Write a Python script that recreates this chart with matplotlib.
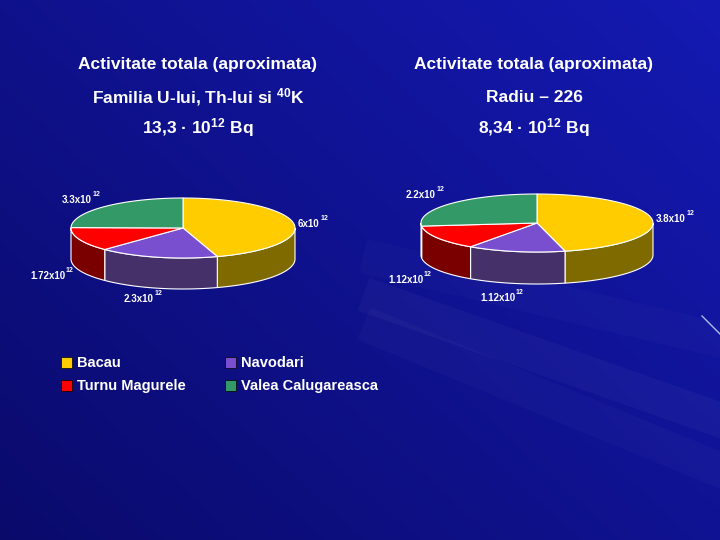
import numpy as np
import matplotlib
matplotlib.use('Agg')
import matplotlib.pyplot as plt
from matplotlib.patches import Polygon, Rectangle

plt.rcParams['font.family'] = ['Liberation Sans', 'DejaVu Sans']

# Data
categories = ['Bacau', 'Navodari', 'Turnu Magurele', 'Valea Calugareasca']
left_vals = [6.0, 2.3, 1.72, 3.3]
right_vals = [3.8, 1.12, 1.12, 2.2]
left_labels = ['6x10', '2.3x10', '1.72x10', '3.3x10']
right_labels = ['3.8x10', '1.12x10', '1.12x10', '2.2x10']
top_colors = ['#FFCC00', '#7A4FCF', '#FF0000', '#339966']
side_colors = ['#7F6A00', '#45306A', '#7A0000', '#1F5C3D']

fig = plt.figure(figsize=(7.2, 5.4), dpi=100)
ax = fig.add_axes([0, 0, 1, 1])
ax.set_xlim(0, 720)
ax.set_ylim(540, 0)
ax.axis('off')

# background gradient
yy, xx = np.mgrid[0:540, 0:720]
g = 0.55 * (xx / 720) + 0.45 * (1 - yy / 540)
bg = np.zeros((540, 720, 3))
bg[..., 0] = 0.04 + 0.04 * g
bg[..., 1] = 0.04 + 0.06 * g
bg[..., 2] = 0.42 + 0.28 * g
ax.imshow(bg, extent=(0, 720, 540, 0), zorder=0)
for y0, y1, a in [(300, 420, 0.03), (330, 470, 0.025), (260, 340, 0.02)]:
    ax.plot([380, 720], [y0, y1], color='white', alpha=a, lw=25, zorder=1)
ax.plot([702, 720], [316, 334], color='#AABBEE', lw=1, zorder=1)


def pie3d(cx, cy, rx, ry, depth, vals):
    total = sum(vals)
    start = 90.0
    wedges = []
    for v in vals:
        sweep = 360.0 * v / total
        wedges.append((start - sweep, start))
        start -= sweep
    # side walls (front half only)
    for (a0, a1), sc in zip(wedges, side_colors):
        for k in range(-1, 2):
            lo, hi = max(a0, 180 + 360 * k), min(a1, 360 + 360 * k)
            if hi <= lo:
                continue
            t = np.radians(np.linspace(lo, hi, 60))
            xs = cx + rx * np.cos(t)
            ys = cy - ry * np.sin(t)
            pts = list(zip(xs, ys)) + list(zip(xs[::-1], ys[::-1] + depth))
            ax.add_patch(Polygon(pts, closed=True, fc=sc, ec='white', lw=0.8, zorder=2))
    # top
    for (a0, a1), tc in zip(wedges, top_colors):
        t = np.radians(np.linspace(a0, a1, 80))
        pts = [(cx, cy)] + list(zip(cx + rx * np.cos(t), cy - ry * np.sin(t)))
        ax.add_patch(Polygon(pts, closed=True, fc=tc, ec='white', lw=0.8, zorder=3))


def lab(x, y, s):
    t = ax.text(x, y, s, color='white', fontsize=7, fontweight='bold', va='baseline', zorder=5)
    ax.annotate('12', xy=(1, 1), xycoords=t, xytext=(0.5, -2), textcoords='offset points',
                color='white', fontsize=5, fontweight='bold', va='bottom', zorder=5)


pie3d(183, 228, 112, 30, 31, left_vals)
pie3d(537, 223, 116, 29, 32, right_vals)

for (x, y), s in zip([(298, 227), (124, 302), (30, 279), (62, 203)], left_labels):
    lab(x, y, s)
for (x, y), s in zip([(656, 222), (480, 301), (388, 283), (406, 198)], right_labels):
    lab(x, y, s)

tk = dict(color='white', fontsize=12.5, fontweight='bold', ha='center', va='center', zorder=5)
ax.text(198, 64, 'Activitate totala (aproximata)', **tk)
ax.text(534, 64, 'Activitate totala (aproximata)', **tk)
ax.text(198, 97, 'Familia U-lui, Th-lui si $\\mathregular{^{40}}$K', **tk)
ax.text(534, 97, 'Radiu – 226', **tk)
ax.text(198, 128, '13,3 · 10$\\mathregular{^{12}}$ Bq', **tk)
ax.text(534, 128, '8,34 · 10$\\mathregular{^{12}}$ Bq', **tk)

# legend
for (x, y), name, c in zip([(61, 357), (225, 357), (61, 380), (225, 380)],
                           categories, top_colors):
    ax.add_patch(Rectangle((x, y), 11, 11, fc=c, ec='black', lw=0.5, zorder=4))
    ax.text(x + 16, y + 6, name, color='white', fontsize=10.5, fontweight='bold', va='center', zorder=5)

fig.savefig('out.png', dpi=100)
